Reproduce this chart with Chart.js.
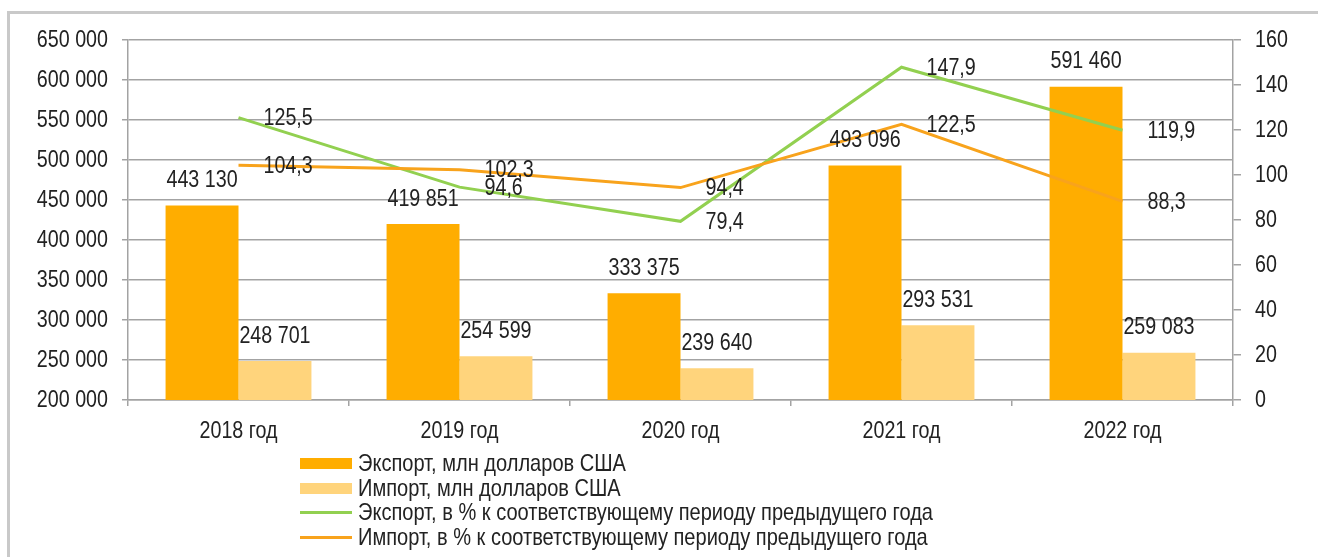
<!DOCTYPE html>
<html>
<head>
<meta charset="utf-8">
<script src="https://cdn.jsdelivr.net/npm/chart.js@4.4.1/dist/chart.umd.min.js"></script>
<style>
  html, body { margin: 0; padding: 0; background: #fff; }
  #wrap { position: relative; width: 1318px; height: 557px; overflow: hidden; }
  #frame { position: absolute; left: 7px; top: 11px; width: 1320px; height: 560px;
           border-left: 3px solid #c9c9c9; border-top: 3px solid #c9c9c9; }
  #chart { position: absolute; left: 0; top: 0; }
  #legend { position: absolute; left: 300px; top: 451px;
            font-family: "Liberation Sans", Arial, sans-serif;
            font-size: 24px; color: #222; }
  .row { height: 24.7px; line-height: 24.7px; display: flex; align-items: center; white-space: nowrap; }
  .sw { width: 52px; margin-right: 6px; flex: none; }
  .row span { display: inline-block; transform: scaleX(0.835); transform-origin: left center; }
</style>
</head>
<body>
<div id="wrap">
  <div id="frame"></div>
  <canvas id="chart" width="1318" height="557"></canvas>
  <div id="legend"></div>
</div>
<script>
const years = ['2018 год', '2019 год', '2020 год', '2021 год', '2022 год'];
const exportMln = [443130, 419851, 333375, 493096, 591460];
const importMln = [248701, 254599, 239640, 293531, 259083];
const exportPct = [125.5, 94.6, 79.4, 147.9, 119.9];
const importPct = [104.3, 102.3, 94.4, 122.5, 88.3];

// no Arial Narrow here, so Liberation Sans squeezed sideways
const FONT = '24px "Liberation Sans", Arial, sans-serif';
const SQUEEZE = 0.82;
const textColor = '#222';
const gridColor = '#a3a3a3';

function fmtThousands(v) {
    return String(v).replace(/\B(?=(\d{3})+(?!\d))/g, ' ');
}
function fmtPct(v) {
    return v.toFixed(1).replace('.', ',');
}

function narrowText(ctx, text, x, y, align) {
    ctx.save();
    ctx.translate(x, y);
    ctx.scale(SQUEEZE, 1);
    ctx.textAlign = align;
    ctx.textBaseline = 'middle';
    ctx.fillText(text, 0, 0);
    ctx.restore();
}

// value labels + axis labels
const narrowLabels = {
    id: 'narrowLabels',
    afterDraw(chart) {
        const ctx = chart.ctx;
        ctx.save();
        ctx.font = FONT;
        ctx.fillStyle = textColor;

        chart.data.datasets.forEach((ds, i) => {
            const meta = chart.getDatasetMeta(i);
            meta.data.forEach((el, j) => {
                if (ds.type === 'bar') {
                    narrowText(ctx, fmtThousands(ds.data[j]), el.x, el.y - 25, 'center');
                } else {
                    narrowText(ctx, fmtPct(ds.data[j]), el.x + 25, el.y + 1, 'left');
                }
            });
        });

        const y = chart.scales.y;
        y.ticks.forEach(t => {
            narrowText(ctx, fmtThousands(t.value), y.right - 20, y.getPixelForValue(t.value), 'right');
        });
        const y1 = chart.scales.y1;
        y1.ticks.forEach(t => {
            narrowText(ctx, String(t.value), y1.left + 22, y1.getPixelForValue(t.value), 'left');
        });
        const x = chart.scales.x;
        chart.data.labels.forEach((lab, i) => {
            narrowText(ctx, lab, x.getPixelForValue(i), chart.chartArea.bottom + 31, 'center');
        });
        ctx.restore();
    }
};

const ctx = document.getElementById('chart').getContext('2d');
const chart = new Chart(ctx, {
    data: {
        labels: years,
        datasets: [
            {
                type: 'bar',
                label: 'Экспорт, млн долларов США',
                data: exportMln,
                backgroundColor: '#ffad00',
                yAxisID: 'y',
                order: 2
            },
            {
                type: 'bar',
                label: 'Импорт, млн долларов США',
                data: importMln,
                backgroundColor: '#ffd47c',
                yAxisID: 'y',
                order: 2
            },
            {
                type: 'line',
                label: 'Экспорт, в % к соответствующему периоду предыдущего года',
                data: exportPct,
                borderColor: '#92d050',
                borderWidth: 3,
                pointRadius: 0,
                tension: 0,
                yAxisID: 'y1',
                order: 1
            },
            {
                type: 'line',
                label: 'Импорт, в % к соответствующему периоду предыдущего года',
                data: importPct,
                borderColor: '#f8a31c',
                borderWidth: 3,
                pointRadius: 0,
                tension: 0,
                yAxisID: 'y1',
                order: 0
            }
        ]
    },
    options: {
        responsive: false,
        animation: false,
        devicePixelRatio: 1,
        layout: { padding: { top: 40, left: 0, right: 0, bottom: 0 } },
        datasets: {
            bar: { categoryPercentage: 0.66, barPercentage: 1.0 }
        },
        plugins: {
            legend: { display: false },
            tooltip: { enabled: false }
        },
        scales: {
            x: {
                afterFit: (s) => { s.height = 157; },
                grid: { drawOnChartArea: false, tickLength: 6, color: gridColor, lineWidth: 1.5 },
                border: { color: gridColor, width: 1.5 },
                ticks: { color: 'transparent', font: { size: 20 } }
            },
            y: {
                position: 'left',
                min: 200000,
                max: 650000,
                afterFit: (s) => { s.width = 128; },
                grid: { color: gridColor, lineWidth: 1.5, tickLength: 6 },
                border: { color: gridColor, width: 1.5 },
                ticks: { stepSize: 50000, color: 'transparent', font: { size: 20 } }
            },
            y1: {
                position: 'right',
                min: 0,
                max: 160,
                afterFit: (s) => { s.width = 85; },
                grid: { drawOnChartArea: false, color: gridColor, lineWidth: 1.5, tickLength: 8 },
                border: { color: gridColor, width: 1.5 },
                ticks: { stepSize: 20, color: 'transparent', font: { size: 20 } }
            }
        }
    },
    plugins: [narrowLabels]
});

// legend as a plain list, bars first
function buildLegend() {
    const box = document.getElementById('legend');
    chart.data.datasets.forEach(d => {
        const row = document.createElement('div');
        row.className = 'row';
        const sw = document.createElement('div');
        sw.className = 'sw';
        if (d.type === 'bar') {
            sw.style.height = '11px';
            sw.style.background = d.backgroundColor;
        } else {
            sw.style.height = '3px';
            sw.style.background = d.borderColor;
        }
        const txt = document.createElement('span');
        txt.innerText = d.label;
        row.appendChild(sw);
        row.appendChild(txt);
        box.appendChild(row);
    });
}
buildLegend();
</script>
</body>
</html>
